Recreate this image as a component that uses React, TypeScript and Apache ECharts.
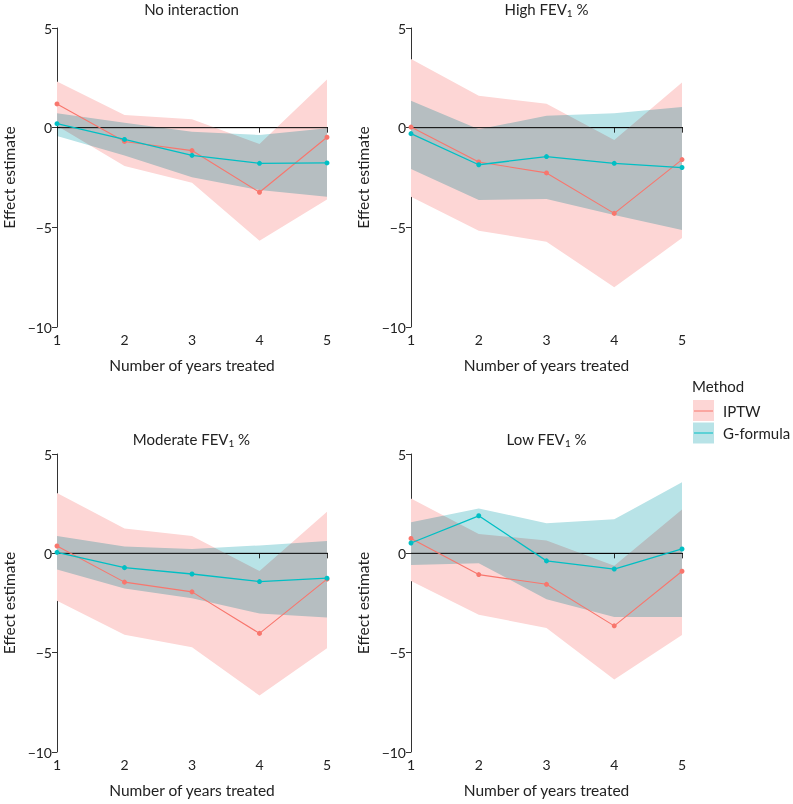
import React, { useEffect, useRef } from "react";
import * as echarts from "echarts";

const YEARS = [1, 2, 3, 4, 5];
const Y_TICKS = [-10, -5, 0, 5];

const PANEL_TITLES = ["No interaction", "High FEV{s|1} %", "Moderate FEV{s|1} %", "Low FEV{s|1} %"];

// No interaction
const noIntIptw = [1.19, -0.69, -1.15, -3.24, -0.48];
const noIntIptwLo = [0.1, -1.92, -2.76, -5.67, -3.6];
const noIntIptwHi = [2.31, 0.64, 0.42, -0.82, 2.42];
const noIntGf = [0.2, -0.59, -1.39, -1.79, -1.77];
const noIntGfLo = [-0.42, -1.4, -2.49, -3.13, -3.46];
const noIntGfHi = [0.72, 0.25, -0.2, -0.37, -0.03];

// High FEV1 %
const highIptw = [0.03, -1.72, -2.27, -4.3, -1.6];
const highIptwLo = [-3.46, -5.17, -5.72, -8.01, -5.54];
const highIptwHi = [3.44, 1.6, 1.2, -0.62, 2.26];
const highGf = [-0.3, -1.86, -1.45, -1.79, -2.0];
const highGfLo = [-2.07, -3.63, -3.58, -4.38, -5.13];
const highGfHi = [1.35, -0.08, 0.6, 0.72, 1.04];

// Moderate FEV1 %
const modIptw = [0.37, -1.45, -1.94, -4.03, -1.3];
const modIptwLo = [-2.39, -4.1, -4.73, -7.16, -4.78];
const modIptwHi = [3.04, 1.25, 0.87, -0.89, 2.09];
const modGf = [0.05, -0.72, -1.04, -1.42, -1.25];
const modGfLo = [-0.82, -1.77, -2.26, -3.03, -3.23];
const modGfHi = [0.87, 0.35, 0.22, 0.4, 0.62];

// Low FEV1 %
const lowIptw = [0.75, -1.07, -1.56, -3.65, -0.9];
const lowIptwLo = [-1.39, -3.09, -3.76, -6.35, -4.11];
const lowIptwHi = [2.76, 0.97, 0.65, -0.62, 2.21];
const lowGf = [0.52, 1.89, -0.38, -0.79, 0.22];
const lowGfLo = [-0.59, -0.5, -2.31, -3.21, -3.21];
const lowGfHi = [1.57, 2.26, 1.52, 1.71, 3.58];

const PANELS = [
  { iptw: noIntIptw, iptwLo: noIntIptwLo, iptwHi: noIntIptwHi, gf: noIntGf, gfLo: noIntGfLo, gfHi: noIntGfHi },
  { iptw: highIptw, iptwLo: highIptwLo, iptwHi: highIptwHi, gf: highGf, gfLo: highGfLo, gfHi: highGfHi },
  { iptw: modIptw, iptwLo: modIptwLo, iptwHi: modIptwHi, gf: modGf, gfLo: modGfLo, gfHi: modGfHi },
  { iptw: lowIptw, iptwLo: lowIptwLo, iptwHi: lowIptwHi, gf: lowGf, gfLo: lowGfLo, gfHi: lowGfHi },
];

const LEGEND_TITLE = "Method";
const METHODS = ["IPTW", "G-formula"];

const FONT = "Lato";
const PINK_LINE = "#F8766D";
const CYAN_LINE = "#00BFC4";
const PINK_FILL = "#fdd6d5";
const CYAN_FILL = "#b8e3e7";
const AXIS_COLOR = "#333333";
const TEXT_COLOR = "#222222";

const GRIDS = [
  { left: 56, top: 28, width: 271, height: 299 },
  { left: 411, top: 28, width: 271, height: 299 },
  { left: 56, top: 454, width: 271, height: 298 },
  { left: 411, top: 454, width: 271, height: 298 },
];
const TITLE_POS = [
  { x: 191.5, y: 9 },
  { x: 546.5, y: 9 },
  { x: 191.5, y: 439 },
  { x: 546.5, y: 439 },
];

const fmtY = (v: number) => (v < 0 ? "\u2212" + Math.abs(v) : String(v));

function ribbonSeries(i: number, lo: number[], hi: number[], fill: string, z: number) {
  return {
    type: "custom",
    xAxisIndex: i,
    yAxisIndex: i,
    silent: true,
    z,
    clip: false,
    data: YEARS.map((x, k) => [x, lo[k], hi[k]]),
    encode: { x: 0, y: [1, 2] },
    renderItem: (params: any, api: any) => {
      if (params.dataIndex !== 0) return { type: "group", children: [] };
      const upper = YEARS.map((x, k) => api.coord([x, hi[k]]));
      const lower = YEARS.map((x, k) => api.coord([x, lo[k]])).reverse();
      return {
        type: "polygon",
        shape: { points: upper.concat(lower) },
        style: { fill, stroke: "none" },
      };
    },
  };
}

export default function App() {
  const ref = useRef<HTMLDivElement>(null);
  useEffect(() => {
    if (!ref.current) return;
    const chart = echarts.init(ref.current, undefined, { renderer: "svg" });

    const xAxis: any[] = [];
    const yAxis: any[] = [];
    const series: any[] = [];
    const graphic: any[] = [];

    PANELS.forEach((p, i) => {
      xAxis.push({
        type: "value",
        gridIndex: i,
        min: 1,
        max: 5,
        interval: 1,
        name: "Number of years treated",
        nameLocation: "middle",
        nameGap: 30,
        nameTextStyle: { fontFamily: FONT, fontSize: 15.5, color: TEXT_COLOR },
        axisLine: { show: true, lineStyle: { color: AXIS_COLOR, width: 1 } },
        axisTick: { show: true, length: 5, lineStyle: { color: AXIS_COLOR } },
        axisLabel: { fontFamily: FONT, fontSize: 14, color: TEXT_COLOR, margin: 5 },
        splitLine: { show: false },
      });
      yAxis.push({
        type: "value",
        gridIndex: i,
        min: Y_TICKS[0],
        max: Y_TICKS[Y_TICKS.length - 1],
        interval: 5,
        name: "Effect estimate",
        nameLocation: "middle",
        nameGap: 40,
        nameTextStyle: { fontFamily: FONT, fontSize: 15.5, color: TEXT_COLOR },
        axisLine: { show: true, lineStyle: { color: AXIS_COLOR, width: 1 } },
        axisTick: { show: true, length: 5, lineStyle: { color: AXIS_COLOR } },
        axisLabel: { fontFamily: FONT, fontSize: 14, color: TEXT_COLOR, margin: 5, formatter: fmtY },
        splitLine: { show: false },
      });
      const pts = (arr: number[]) => YEARS.map((x, k) => [x, arr[k]]);
      const common = { xAxisIndex: i, yAxisIndex: i, silent: true };
      series.push(
        ribbonSeries(i, p.iptwLo, p.iptwHi, PINK_FILL, 1),
        ribbonSeries(i, p.gfLo, p.gfHi, CYAN_FILL, 2),
        {
          ...common, type: "line", data: [[1, 0], [5.2, 0]], clip: false,
          symbol: "none", lineStyle: { color: "#000000", width: 1 }, z: 3,
        },
        {
          ...common, type: "line", name: METHODS[0], data: pts(p.iptw),
          symbol: "circle", symbolSize: 5, itemStyle: { color: PINK_LINE },
          lineStyle: { color: PINK_LINE, width: 1.1 }, z: 4,
        },
        {
          ...common, type: "line", name: METHODS[1], data: pts(p.gf),
          symbol: "circle", symbolSize: 5, itemStyle: { color: CYAN_LINE },
          lineStyle: { color: CYAN_LINE, width: 1.3 }, z: 5,
        }
      );
      graphic.push({
        type: "text",
        x: TITLE_POS[i].x,
        y: TITLE_POS[i].y,
        style: {
          text: PANEL_TITLES[i],
          fontFamily: FONT,
          fontSize: 15,
          fill: TEXT_COLOR,
          align: "center",
          verticalAlign: "middle",
          rich: { s: { fontFamily: FONT, fontSize: 10, fill: TEXT_COLOR, padding: [8, 0, 0, 0] } },
        },
      });
    });

    // legend
    graphic.push(
      { type: "text", x: 692, y: 386, style: { text: LEGEND_TITLE, fontFamily: FONT, fontSize: 15, fill: TEXT_COLOR, align: "left", verticalAlign: "middle" } },
      { type: "rect", shape: { x: 693, y: 400, width: 21, height: 21 }, style: { fill: PINK_FILL } },
      { type: "line", shape: { x1: 694, y1: 411, x2: 713, y2: 411 }, style: { stroke: PINK_LINE, lineWidth: 1 } },
      { type: "rect", shape: { x: 693, y: 422.5, width: 21, height: 21 }, style: { fill: CYAN_FILL } },
      { type: "line", shape: { x1: 694, y1: 433, x2: 713, y2: 433 }, style: { stroke: CYAN_LINE, lineWidth: 1 } },
      { type: "text", x: 723, y: 411, style: { text: METHODS[0], fontFamily: FONT, fontSize: 15, fill: TEXT_COLOR, align: "left", verticalAlign: "middle" } },
      { type: "text", x: 723, y: 433, style: { text: METHODS[1], fontFamily: FONT, fontSize: 15, fill: TEXT_COLOR, align: "left", verticalAlign: "middle" } }
    );

    chart.setOption({
      animation: false,
      backgroundColor: "#ffffff",
      grid: GRIDS.map((g) => ({ ...g, containLabel: false })),
      xAxis,
      yAxis,
      series,
      graphic,
    });
    return () => chart.dispose();
  }, []);

  return (
    <div style={{ position: "fixed", left: 0, top: 0, width: 793, height: 804 }}>
      <style>{`.fx-chart path[fill="${CYAN_FILL}" i]{mix-blend-mode:multiply}`}</style>
      <div className="fx-chart" ref={ref} style={{ width: 793, height: 804 }} />
    </div>
  );
}
